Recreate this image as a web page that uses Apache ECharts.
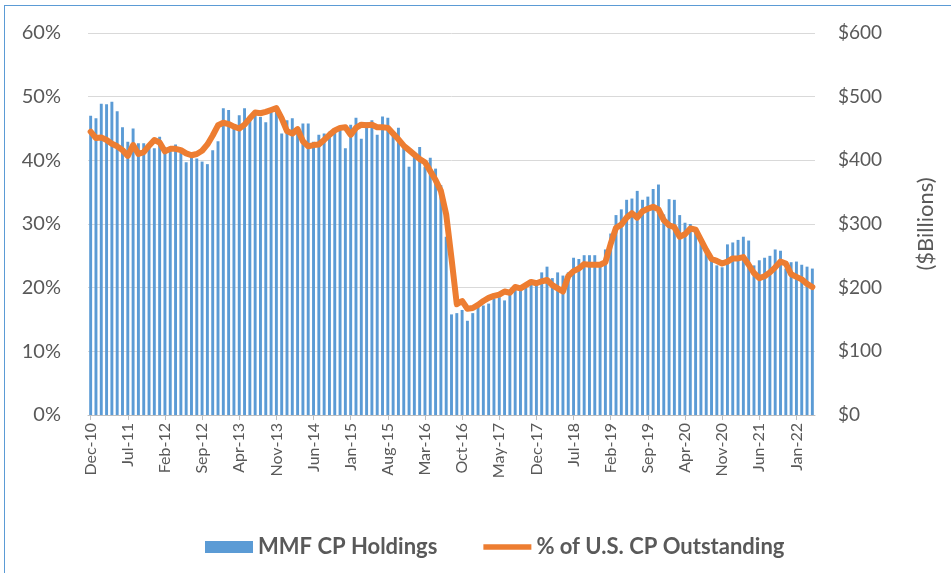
<!DOCTYPE html>
<html>
<head>
<meta charset="utf-8">
<script src="https://cdn.jsdelivr.net/npm/echarts@6/dist/echarts.min.js"></script>
<style>
  html, body { margin: 0; padding: 0; background: #fff; }
  #frame { position: absolute; left: 4px; top: 5px; width: 960px; height: 580px; border: 1px solid #5b9bd5; box-sizing: border-box; }
  #myChart { position: absolute; left: 0; top: 0; width: 951px; height: 573px; }
</style>
</head>
<body>
<div id="frame"></div>
<div id="myChart"></div>
<script>
// monthly, Dec-10 .. Apr-22
var startYear = 2010, startMonth = 11, monthCount = 137;
var monthNames = ['Jan','Feb','Mar','Apr','May','Jun','Jul','Aug','Sep','Oct','Nov','Dec'];

// MMF CP holdings ($ billions)
var holdings = [
  470, 466, 489, 488, 492, 477, 452, 429, 450, 427, 427, 421, 419, 437, 421, 421, 425, 416, 397, 408, 403, 398, 394,
  416, 430, 482, 479, 451, 471, 482, 466, 476, 468, 460, 476, 484, 442, 463, 466, 447, 458, 458, 429, 440, 442,
  445, 450, 451, 419, 456, 467, 434, 460, 463, 440, 469, 467, 442, 451, 424, 390, 413, 421, 390, 404, 387, 361, 280,
  158, 160, 165, 148, 160, 170, 172, 175, 183, 185, 180, 190, 198, 195, 200, 205, 210, 224, 233, 215, 224, 219,
  224, 247, 245, 251, 251, 251, 235, 260, 285, 314, 323, 338, 340, 352, 338, 343, 355, 362, 315, 339, 338, 314,
  302, 300, 290, 270, 255, 245, 235, 232, 268, 271, 275, 280, 274, 235, 243, 247, 250, 260, 258, 230, 240, 241, 236, 233, 230
];

// % of U.S. CP outstanding
var sharePct = [
  44.5, 43.5, 43.6, 43.2, 42.6, 42.2, 41.6, 40.7, 42.4, 41.0, 41.3, 42.3, 43.2, 42.8, 41.4, 41.8, 41.8, 41.6, 41.1, 40.8, 41.0, 41.5, 42.5,
  43.9, 45.5, 45.9, 45.7, 45.3, 45.0, 45.6, 46.6, 47.5, 47.4, 47.6, 47.9, 48.2, 46.6, 44.6, 44.2, 44.9, 43.0, 42.2, 42.4, 42.5, 43.2,
  44.0, 44.7, 45.1, 45.2, 44.0, 45.1, 45.6, 45.5, 45.6, 45.2, 45.2, 45.1, 44.2, 43.3, 42.3, 41.6, 40.9, 40.2, 39.7, 38.3, 36.9, 35.2, 31.5,
  24.6, 17.4, 17.9, 16.7, 16.8, 17.3, 17.9, 18.4, 18.7, 18.9, 19.4, 19.2, 20.1, 19.9, 20.4, 20.9, 20.7, 21.0, 21.2, 20.4, 19.9, 19.4,
  21.8, 22.6, 23.0, 23.7, 23.6, 23.6, 23.6, 24.0, 26.9, 29.4, 29.9, 31.0, 31.7, 31.0, 32.0, 32.4, 32.7, 32.3, 30.6, 29.8, 29.5, 28.0,
  28.4, 29.3, 29.1, 27.5, 25.9, 24.5, 24.2, 23.8, 24.1, 24.6, 24.6, 24.8, 23.6, 22.3, 21.5, 21.8, 22.4, 23.2, 24.1, 23.8, 22.1, 21.7, 21.3, 20.6, 20.1
];

var pctTicks = [0, 10, 20, 30, 40, 50, 60];
var dollarTicks = [0, 100, 200, 300, 400, 500, 600];

var months = [];
for (var i = 0; i < monthCount; i++) {
    var m = (startMonth + i) % 12;
    var y = startYear + Math.floor((startMonth + i) / 12);
    months.push(monthNames[m] + '-' + String(y).slice(2));
}

var labelFont = 'Lato, "Liberation Sans", sans-serif';
var myChart = echarts.init(document.getElementById('myChart'), null, {renderer: 'canvas'});

var option = {
    animation: false,
    backgroundColor: 'transparent',
    textStyle: {fontFamily: labelFont},
    grid: {left: 88, right: 136, top: 33, bottom: 158, containLabel: false},
    legend: {
        left: 200,
        top: 531,
        itemWidth: 48,
        itemHeight: 12,
        itemGap: 46,
        textStyle: {fontSize: 22, fontWeight: 'bold', color: '#595959', fontFamily: labelFont},
        data: [
            {name: 'MMF CP Holdings', icon: 'rect'},
            {name: '% of U.S. CP Outstanding', icon: 'path://M0,0 L96,0 L96,11 L0,11 Z'}
        ]
    },
    xAxis: {
        type: 'category',
        data: months,
        boundaryGap: true,
        axisLine: {lineStyle: {color: '#bfbfbf'}},
        axisTick: {show: true, interval: 6, alignWithLabel: true, length: 5, lineStyle: {color: '#bfbfbf'}},
        axisLabel: {interval: 6, rotate: 90, margin: 8, fontSize: 16, color: '#595959'}
    },
    yAxis: [
        {
            type: 'value',
            min: pctTicks[0],
            max: pctTicks[pctTicks.length - 1],
            interval: 10,
            axisLine: {show: false},
            axisTick: {show: false},
            splitLine: {lineStyle: {color: '#d9d9d9', width: 1}},
            axisLabel: {formatter: '{value}%', fontSize: 20, color: '#595959', margin: 27}
        },
        {
            type: 'value',
            min: dollarTicks[0],
            max: dollarTicks[dollarTicks.length - 1],
            interval: 100,
            position: 'right',
            axisLine: {show: false},
            axisTick: {show: false},
            splitLine: {show: false},
            axisLabel: {formatter: '${value}', fontSize: 19, color: '#595959', margin: 23},
            name: '($Billions)',
            nameLocation: 'middle',
            nameRotate: 90,
            nameGap: 100,
            nameTextStyle: {fontSize: 22, color: '#595959'}
        }
    ],
    series: [
        {
            name: 'MMF CP Holdings',
            type: 'bar',
            yAxisIndex: 1,
            data: holdings,
            barWidth: '55%',
            itemStyle: {color: '#5b9bd5'}
        },
        {
            name: '% of U.S. CP Outstanding',
            type: 'line',
            yAxisIndex: 0,
            data: sharePct,
            symbol: 'none',
            lineStyle: {color: '#ed7d31', width: 6, cap: 'round', join: 'round'},
            itemStyle: {color: '#ed7d31'}
        }
    ]
};

myChart.setOption(option);
</script>
</body>
</html>
